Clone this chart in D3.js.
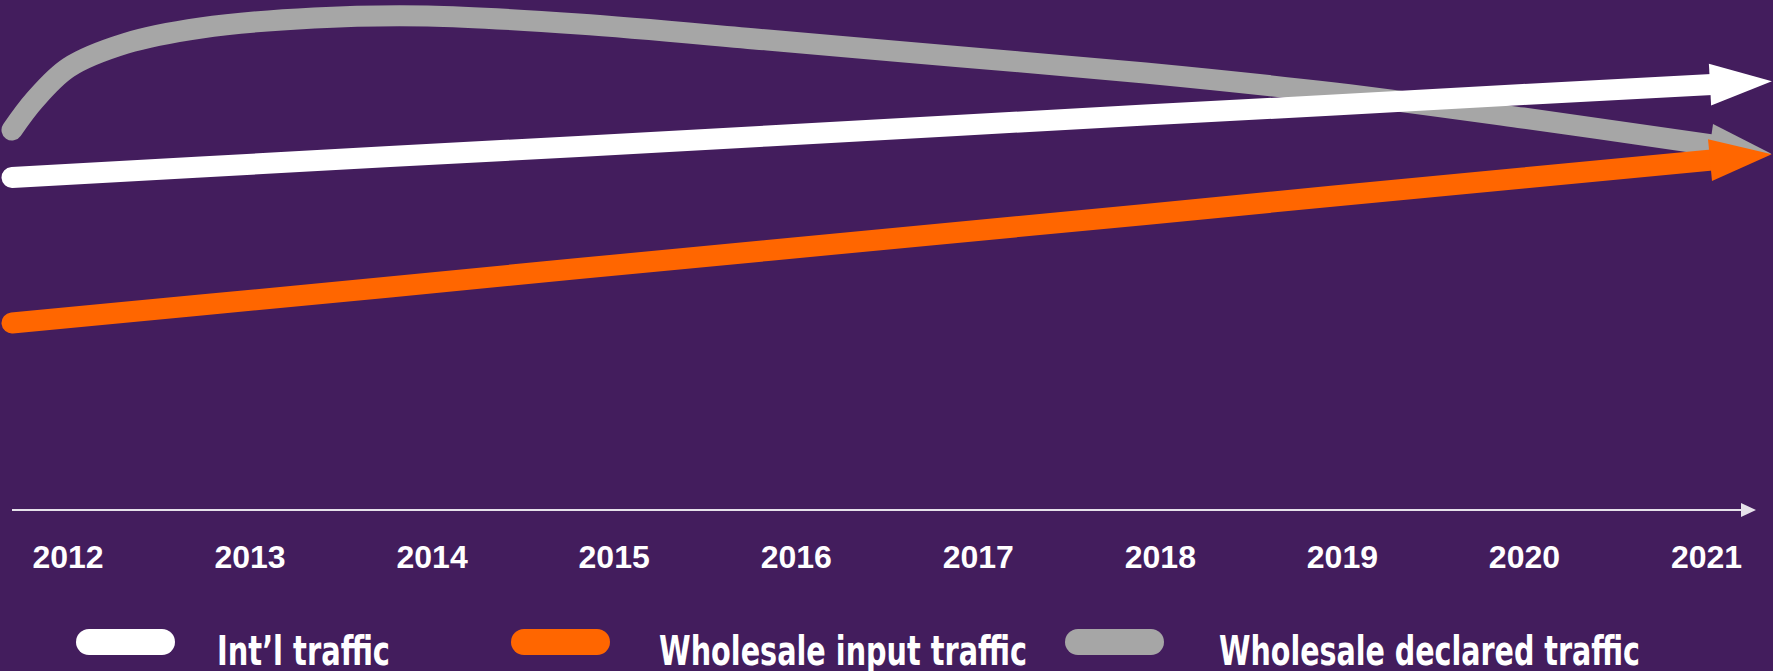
<!DOCTYPE html>
<html>
<head>
<meta charset="utf-8">
<script src="https://cdn.jsdelivr.net/npm/d3@7"></script>
<style>
  html, body { margin: 0; padding: 0; background: #431d5d; overflow: hidden; }
  svg { display: block; }
  .tick text { font-family: "Liberation Sans", Arial, sans-serif; font-weight: bold; }
  .legend text { font-family: "Liberation Sans Narrow", "DejaVu Sans Condensed", "DejaVu Sans", sans-serif; font-stretch: condensed; font-weight: bold; }
</style>
</head>
<body>
<svg class="trend" width="1773" height="671"></svg>
<script>
// years shown under the axis
var years = [2012, 2013, 2014, 2015, 2016, 2017, 2018, 2019, 2020, 2021];

// index values (0 = axis line, 100 = top)
var intlTraffic = [66.5, 68.6, 70.7, 72.7, 74.8, 76.9, 79.0, 81.0, 83.1, 85.1];
var wholesaleInput = [37.4, 41.0, 44.6, 48.3, 51.9, 55.5, 59.1, 62.8, 66.4, 70.0];

// declared traffic bends early on, so it has a few extra points
var declaredYears = [2012, 2012.12, 2012.3, 2012.6, 2013, 2013.6, 2014.2, 2015, 2016, 2017, 2018, 2019, 2020, 2021];
var wholesaleDeclared = [76, 82, 88.5, 93.3, 96.4, 98.4, 98.8, 97.2, 94, 90.7, 87.4, 83.4, 78.4, 73];

var seriesNames = ["Int\u2019l traffic", "Wholesale input traffic", "Wholesale declared traffic"];
var seriesColors = ["#ffffff", "#ff6600", "#a6a6a6"];

var svg = d3.select('svg.trend');
var width = +svg.attr("width");
var height = +svg.attr("height");

var x = d3.scaleLinear().domain([2012, 2021]).range([12, 1712]);
var xTick = d3.scaleLinear().domain([2012, 2021]).range([67.5, 1706]);
var y = d3.scaleLinear().domain([0, 100]).range([510, 10]);

svg.append('rect')
    .attr('width', width)
    .attr('height', height)
    .attr('fill', '#431d5d');

var defs = svg.append('defs');

// one arrow head per colour
seriesColors.forEach(function (c, i) {
    defs.append('marker')
        .attr('id', 'head' + i)
        .attr('markerUnits', 'userSpaceOnUse')
        .attr('markerWidth', 70)
        .attr('markerHeight', 50)
        .attr('viewBox', '0 -25 70 50')
        .attr('refX', 2)
        .attr('refY', 0)
        .attr('orient', 'auto')
        .style('overflow', 'visible')
        .append('path')
        .attr('d', 'M0,-21L62,0L0,21Z')
        .attr('fill', c);
});

defs.append('marker')
    .attr('id', 'axisHead')
    .attr('markerUnits', 'userSpaceOnUse')
    .attr('markerWidth', 16)
    .attr('markerHeight', 16)
    .attr('viewBox', '0 -8 16 16')
    .attr('refX', 0)
    .attr('refY', 0)
    .attr('orient', 'auto')
    .append('path')
    .attr('d', 'M0,-7L15,0L0,7Z')
    .attr('fill', '#e6e2ea');

// axis line with small arrow
svg.append('line')
    .attr('x1', 12)
    .attr('x2', 1741)
    .attr('y1', y(0))
    .attr('y2', y(0))
    .attr('stroke', '#e6e2ea')
    .attr('stroke-width', 2.2)
    .attr('marker-end', 'url(#axisHead)');

var axis = svg.append('g')
    .attr('transform', 'translate(0,568)')
    .call(d3.axisBottom(xTick).tickValues(years).tickFormat(d3.format('d')).tickSize(0));
axis.select('.domain').remove();
axis.selectAll('text')
    .attr('y', 0)
    .attr('dy', 0)
    .attr('fill', '#ffffff')
    .style('font-size', '32px');

var straight = d3.line()
    .x(function (d) { return x(d[0]); })
    .y(function (d) { return y(d[1]); });

var curved = d3.line()
    .x(function (d) { return x(d[0]); })
    .y(function (d) { return y(d[1]); })
    .curve(d3.curveCatmullRom.alpha(0.5));

var lines = [
    { idx: 2, pts: d3.zip(declaredYears, wholesaleDeclared), gen: curved },
    { idx: 0, pts: d3.zip(years, intlTraffic), gen: straight },
    { idx: 1, pts: d3.zip(years, wholesaleInput), gen: straight }
];

svg.selectAll('.trendline')
    .data(lines)
    .enter()
    .append('path')
    .attr('class', 'trendline')
    .attr('d', function (d) { return d.gen(d.pts); })
    .attr('fill', 'none')
    .attr('stroke', function (d) { return seriesColors[d.idx]; })
    .attr('stroke-width', 21)
    .attr('stroke-linecap', 'round')
    .attr('stroke-linejoin', 'round')
    .attr('marker-end', function (d) { return 'url(#head' + d.idx + ')'; });

// legend
var legendX = [76, 511, 1065];
var legendTextX = [141, 148, 154];
var legendTextW = [173, 368, 421];
var legend = svg.selectAll('.legend')
    .data(seriesNames)
    .enter()
    .append('g')
    .attr('class', 'legend')
    .attr('transform', function (d, i) { return 'translate(' + legendX[i] + ',0)'; });

legend.append('rect')
    .attr('y', 629)
    .attr('width', 99)
    .attr('height', 26)
    .attr('rx', 13)
    .attr('fill', function (d, i) { return seriesColors[i]; });

legend.append('text')
    .attr('x', function (d, i) { return legendTextX[i]; })
    .attr('y', 665)
    .attr('fill', '#ffffff')
    .attr('textLength', function (d, i) { return legendTextW[i]; })
    .attr('lengthAdjust', 'spacingAndGlyphs')
    .style('font-size', '40px')
    .text(function (d) { return d; });
</script>
</body>
</html>
